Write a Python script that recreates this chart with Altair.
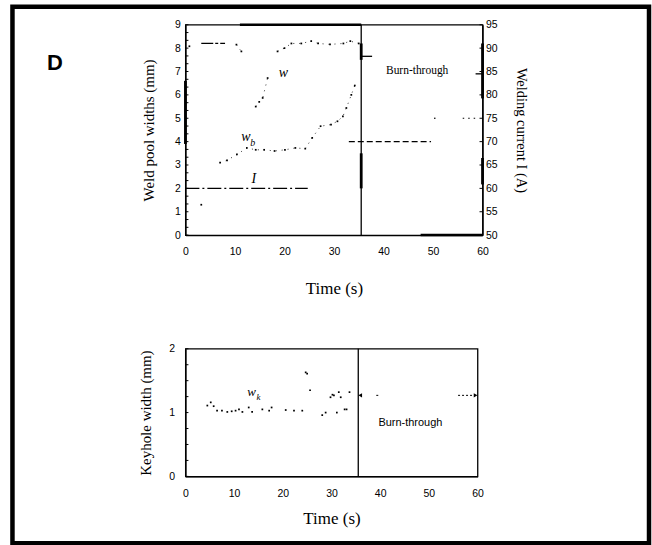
import altair as alt
import pandas as pd

# ---------------- top panel: weld pool widths and welding current ----------------
w_time = [0.8, 10.3, 11.3, 14.2, 14.9, 15.6, 16.6, 18.6, 20.0, 21.4, 23.4, 25.4, 26.8, 29.2, 31.9, 33.3, 35.0]
w_mm = [8.08, 8.15, 7.86, 5.5, 5.7, 5.87, 6.72, 7.86, 8.0, 8.2, 8.2, 8.3, 8.2, 8.16, 8.2, 8.3, 8.2]
w_run = [0, 1, 1, 2, 2, 2, 2, 3, 3, 3, 3, 3, 3, 3, 3, 3, 3]

# flat stretch of w at the start of welding
w_flat_from = [3.2]
w_flat_to = [8.0]
w_flat_mm = [8.2]

wb_time = [3.2, 7.0, 8.4, 10.4, 12.4, 14.2, 15.9, 18.0, 20.1, 22.2, 24.2, 25.6, 27.3, 29.4, 30.7, 31.8, 32.5, 33.5, 34.2]
wb_mm = [1.3, 3.1, 3.2, 3.45, 3.73, 3.65, 3.65, 3.6, 3.65, 3.73, 3.7, 4.16, 4.66, 4.73, 4.87, 5.08, 5.44, 6.0, 6.4]
wb_run = [0, 1, 1, 1, 1, 1, 1, 1, 1, 1, 1, 1, 1, 1, 1, 1, 1, 1, 1]

# welding current steps (A)
cur_from = [0.0, 33.0, 50.2, 56.0]
cur_to = [24.7, 49.6, 50.6, 59.2]
cur_amp = [60, 70, 75, 75]
cur_style = ["dashdot", "dash", "dot", "dot"]

burn_time = [35.5]

# ---------------- bottom panel: keyhole width ----------------
wk_time = [4.5, 5.2, 5.8, 6.5, 7.5, 8.6, 9.5, 10.3, 11.0, 11.7, 13.0, 13.7, 15.8, 17.2, 17.7,
           20.6, 22.3, 24.0, 24.7, 25.0, 25.6, 28.1, 28.8, 29.8, 30.2, 30.5, 31.1, 31.5, 31.9,
           32.7, 33.1, 33.7]
wk_mm = [1.11, 1.16, 1.10, 1.03, 1.03, 1.01, 1.02, 1.03, 1.05, 1.01, 1.08, 1.01, 1.05, 1.03, 1.08,
         1.04, 1.03, 1.03, 1.63, 1.61, 1.35, 0.96, 1.0, 1.24, 1.28, 1.27, 1.0, 1.32, 1.24,
         1.05, 1.05, 1.32]

# axis tick labels
time_ticks = [0, 10, 20, 30, 40, 50, 60]
width_ticks = [0, 1, 2, 3, 4, 5, 6, 7, 8, 9]
current_ticks = [50, 55, 60, 65, 70, 75, 80, 85, 90, 95]
keyhole_ticks = [0, 1, 2]

TOP_W, TOP_H = 298, 211
BOT_W, BOT_H = 293, 128

SANS = "Liberation Sans"
SERIF = "Liberation Serif"


def time_axis(label_pad, title_pad):
    return alt.Axis(values=time_ticks, title="Time (s)", labelFont=SANS, labelFontSize=10.5,
                    labelPadding=label_pad, titleFont=SERIF, titleFontSize=17,
                    titleFontWeight="normal", titlePadding=title_pad, ticks=False,
                    labelFlush=False, labelOverlap=False, format="d")


TOP_X_AXIS = time_axis(11, 24)
BOT_X_AXIS = time_axis(12, 12)

LEFT_AXIS = alt.Axis(values=width_ticks, title="Weld pool widths (mm)", orient="left",
                     labelFont=SANS, labelFontSize=10.5, labelPadding=5, titleFont=SERIF,
                     titleFontSize=15, titleFontWeight="normal", titlePadding=18, ticks=False,
                     labelOverlap=False, format="d")
RIGHT_AXIS = alt.Axis(values=current_ticks, title="Welding current   I  (A)", orient="right",
                      labelFont=SANS, labelFontSize=10.5, labelPadding=3, titleFont=SERIF,
                      titleFontSize=14.5, titleFontWeight="normal", titlePadding=16, ticks=False,
                      labelOverlap=False, format="d")
KEY_AXIS = alt.Axis(values=keyhole_ticks, title="Keyhole width (mm)", orient="left",
                    labelFont=SANS, labelFontSize=10.5, labelPadding=11, titleFont=SERIF,
                    titleFontSize=15, titleFontWeight="normal", titlePadding=15, ticks=False,
                    labelOverlap=False, labelExpr="format(datum.value, 'd')")


def tx(field, axis):
    return alt.X(f"{field}:Q", scale=alt.Scale(domain=[0, 60], nice=False, zero=False), axis=axis)


def ty(field, domain, axis):
    return alt.Y(f"{field}:Q", scale=alt.Scale(domain=domain, nice=False, zero=False), axis=axis)


DOT = dict(filled=True, shape="square", size=3, color="black", opacity=1)
TRACE = dict(color="black", strokeWidth=0.8, strokeDash=[1, 5])

# ---------- top panel, left scale (mm) ----------
W_DOM = [0, 9]
w_df = pd.DataFrame({"t": w_time, "v": w_mm, "run": w_run})
wb_df = pd.DataFrame({"t": wb_time, "v": wb_mm, "run": wb_run})
flat_df = pd.DataFrame({"t": w_flat_from, "t2": w_flat_to, "v": w_flat_mm})

w_dots = alt.Chart(w_df).mark_point(**DOT).encode(
    x=tx("t", TOP_X_AXIS), y=ty("v", W_DOM, LEFT_AXIS))
w_trace = alt.Chart(w_df).mark_line(**TRACE).encode(
    x=tx("t", TOP_X_AXIS), y=ty("v", W_DOM, LEFT_AXIS), detail="run:N")
wb_dots = alt.Chart(wb_df).mark_point(**DOT).encode(
    x=tx("t", TOP_X_AXIS), y=ty("v", W_DOM, LEFT_AXIS))
wb_trace = alt.Chart(wb_df).mark_line(**TRACE).encode(
    x=tx("t", TOP_X_AXIS), y=ty("v", W_DOM, LEFT_AXIS), detail="run:N")
w_flat = alt.Chart(flat_df).mark_rule(color="black", strokeWidth=1.2, strokeDash=[12, 2, 3, 2]).encode(
    x=tx("t", TOP_X_AXIS), x2="t2:Q", y=ty("v", W_DOM, LEFT_AXIS))

# heavier stretches of the frame and of the burn-through line
heavy_x_from = [11.0, 47.5]
heavy_x_to = [35.5, 60.0]
heavy_x_at = [9.0, 0.0]
heavy_y_time = [35.5, 35.5, 60.0, 60.0, 0.0]
heavy_y_from = [7.5, 2.0, 5.85, 2.17, 3.9]
heavy_y_to = [8.2, 3.5, 8.2, 3.3, 6.6]

hx_df = pd.DataFrame({"t": heavy_x_from, "t2": heavy_x_to, "v": heavy_x_at})
hy_df = pd.DataFrame({"t": heavy_y_time, "v": heavy_y_from, "v2": heavy_y_to})
heavy_h = alt.Chart(hx_df).mark_rule(color="black", strokeWidth=2.5).encode(
    x=tx("t", TOP_X_AXIS), x2="t2:Q", y=ty("v", W_DOM, LEFT_AXIS))
heavy_v = alt.Chart(hy_df).mark_rule(color="black", strokeWidth=2.8).encode(
    x=tx("t", TOP_X_AXIS), y=ty("v", W_DOM, LEFT_AXIS), y2="v2:Q")

burn_df = pd.DataFrame({"t": burn_time})
burn_top = alt.Chart(burn_df).mark_rule(color="black", strokeWidth=1.3).encode(x=tx("t", TOP_X_AXIS))

# interval markers next to the burn-through region
mark_from = [35.5, 58.6]
mark_to = [37.7, 60.0]
mark_at = [7.65, 6.9]
mk_df = pd.DataFrame({"t": mark_from, "t2": mark_to, "v": mark_at})
top_marks = alt.Chart(mk_df).mark_rule(color="black", strokeWidth=1.3).encode(
    x=tx("t", TOP_X_AXIS), x2="t2:Q", y=ty("v", W_DOM, LEFT_AXIS))

top_note = alt.Chart(pd.DataFrame({"t": [46.8], "v": [7.0], "s": ["Burn-through"]})).mark_text(
    font=SERIF, fontSize=11.5, color="black").encode(
    x=tx("t", TOP_X_AXIS), y=ty("v", W_DOM, LEFT_AXIS), text="s:N")

lab_text = ["w", "w", "I"]
lab_time = [19.8, 12.2, 13.8]
lab_val = [6.95, 4.2, 2.4]
lab_df = pd.DataFrame({"t": lab_time, "v": lab_val, "s": lab_text})
labels = alt.Chart(lab_df).mark_text(font=SERIF, fontStyle="italic", fontSize=14, color="black").encode(
    x=tx("t", TOP_X_AXIS), y=ty("v", W_DOM, LEFT_AXIS), text="s:N")
sub_df = pd.DataFrame({"t": [13.6], "v": [3.95], "s": ["b"]})
sub = alt.Chart(sub_df).mark_text(font=SERIF, fontStyle="italic", fontSize=10, color="black").encode(
    x=tx("t", TOP_X_AXIS), y=ty("v", W_DOM, LEFT_AXIS), text="s:N")

# inward ticks on the width axis
minor_mm = [i / 3 for i in range(28)]
tick_l = alt.Chart(pd.DataFrame({"v": minor_mm})).mark_rule(color="black", strokeWidth=1).encode(
    x=alt.value(0), x2=alt.value(3), y=ty("v", W_DOM, LEFT_AXIS))

# figure frame and panel letter
frame = alt.Chart(pd.DataFrame({"k": [0]})).mark_rect(
    filled=False, stroke="black", strokeWidth=4.5).encode(
    x=alt.value(-173.5), x2=alt.value(465), y=alt.value(-18), y2=alt.value(520))
letter = alt.Chart(pd.DataFrame({"s": ["D"]})).mark_text(
    font=SANS, fontSize=22, fontWeight="bold", color="black", align="center", baseline="middle").encode(
    x=alt.value(-131), y=alt.value(38), text="s:N")

left_group = alt.layer(w_trace, wb_trace, w_dots, wb_dots, w_flat, heavy_h, heavy_v, burn_top,
                       top_marks, top_note, labels, sub, tick_l, frame, letter)

# ---------- top panel, right scale (A) ----------
C_DOM = [50, 95]
cur_df = pd.DataFrame({"t": cur_from, "t2": cur_to, "v": cur_amp, "style": cur_style})
current = alt.Chart(cur_df).mark_rule(color="black", strokeWidth=1.2).encode(
    x=tx("t", TOP_X_AXIS), x2="t2:Q", y=ty("v", C_DOM, RIGHT_AXIS),
    strokeDash=alt.StrokeDash("style:N", legend=None,
                              scale=alt.Scale(domain=["dashdot", "dash", "dot"],
                                              range=[[14, 3, 2, 3], [6, 3], [1.5, 4]])))
tick_r = alt.Chart(pd.DataFrame({"v": current_ticks})).mark_rule(color="black", strokeWidth=1).encode(
    x=alt.value(TOP_W - 3), x2=alt.value(TOP_W), y=ty("v", C_DOM, RIGHT_AXIS))
right_group = alt.layer(current, tick_r)

top = alt.layer(left_group, right_group).resolve_scale(y="independent").properties(
    width=TOP_W, height=TOP_H)

# ---------- bottom panel ----------
K_DOM = [0, 2]
wk_df = pd.DataFrame({"t": wk_time, "v": wk_mm})
wk_dots = alt.Chart(wk_df).mark_point(**DOT).encode(
    x=tx("t", BOT_X_AXIS), y=ty("v", K_DOM, KEY_AXIS))
burn_bot = alt.Chart(burn_df).mark_rule(color="black", strokeWidth=1.3).encode(x=tx("t", BOT_X_AXIS))

arrow_time = [35.9, 59.6]
arrow_shape = ["triangle-left", "triangle-right"]
arrow_at = [1.27, 1.27]
arr_df = pd.DataFrame({"t": arrow_time, "v": arrow_at, "shape": arrow_shape})
arrows = alt.Chart(arr_df).mark_point(filled=True, size=18, color="black", opacity=1).encode(
    x=tx("t", BOT_X_AXIS), y=ty("v", K_DOM, KEY_AXIS),
    shape=alt.Shape("shape:N", legend=None, scale=None))
tail_from = [39.2, 56.0]
tail_to = [40.0, 59.3]
tail_at = [1.27, 1.27]
tail_df = pd.DataFrame({"t": tail_from, "t2": tail_to, "v": tail_at})
tails = alt.Chart(tail_df).mark_rule(color="black", strokeWidth=1, strokeDash=[2, 2]).encode(
    x=tx("t", BOT_X_AXIS), x2="t2:Q", y=ty("v", K_DOM, KEY_AXIS))

bot_note = alt.Chart(pd.DataFrame({"t": [46.2], "v": [0.83], "s": ["Burn-through"]})).mark_text(
    font=SANS, fontSize=11, color="black").encode(
    x=tx("t", BOT_X_AXIS), y=ty("v", K_DOM, KEY_AXIS), text="s:N")
wk_lab = alt.Chart(pd.DataFrame({"t": [13.6], "v": [1.32], "s": ["w"]})).mark_text(
    font=SERIF, fontStyle="italic", fontSize=13, color="black").encode(
    x=tx("t", BOT_X_AXIS), y=ty("v", K_DOM, KEY_AXIS), text="s:N")
wk_sub = alt.Chart(pd.DataFrame({"t": [15.0], "v": [1.24], "s": ["k"]})).mark_text(
    font=SERIF, fontStyle="italic", fontSize=9, color="black").encode(
    x=tx("t", BOT_X_AXIS), y=ty("v", K_DOM, KEY_AXIS), text="s:N")

minor_key = [0, 0.25, 0.5, 0.75, 1.0, 1.25, 1.5, 1.75, 2.0]
tick_k = alt.Chart(pd.DataFrame({"v": minor_key})).mark_rule(color="black", strokeWidth=1).encode(
    x=alt.value(0), x2=alt.value(3), y=ty("v", K_DOM, KEY_AXIS))

bottom = alt.layer(wk_dots, burn_bot, arrows, tails, bot_note, wk_lab, wk_sub, tick_k).properties(
    width=BOT_W, height=BOT_H)

chart = alt.vconcat(top, bottom, spacing=114, bounds="flush").properties(
    padding={"left": 9, "top": 3, "right": 0, "bottom": 0},
    background="white",
).configure_view(stroke="black", strokeWidth=1.3).configure_axis(
    grid=False, domainColor="black", domainWidth=1.3, labelColor="black", titleColor="black")

chart.save("out.html", embed_options={"renderer": "svg", "actions": False})
